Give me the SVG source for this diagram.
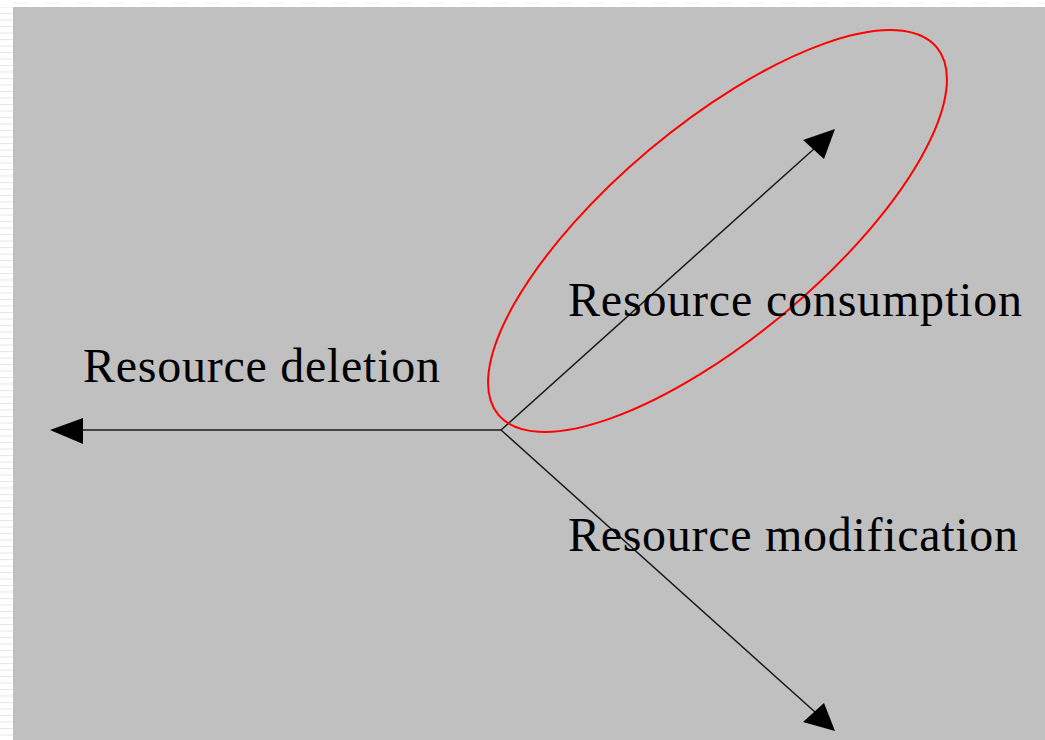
<svg xmlns="http://www.w3.org/2000/svg" width="1045" height="740" viewBox="0 0 1045 740">
  <defs>
    <pattern id="stripes" x="0" y="0" width="13" height="6.5" patternUnits="userSpaceOnUse">
      <rect x="0" y="0" width="13" height="1" fill="#e6e6e6"/>
    </pattern>
    <style>
      .lbl { font-family: "Liberation Serif", "Times New Roman", serif; font-size: 48px; fill: #000; }
      .conn { stroke: #1a1a1a; stroke-width: 1.5; fill: none; }
      .head { fill: #000; stroke: none; }
    </style>
  </defs>
  <rect x="0" y="0" width="1045" height="740" fill="#ffffff"/>
  <rect x="0" y="7" width="13" height="733" fill="url(#stripes)"/>
  <line x1="13" y1="3" x2="1045" y2="3" stroke="#eeeeee" stroke-width="1" stroke-dasharray="16,16"/>
  <rect x="13" y="7" width="1032" height="733" fill="#c0c0c0"/>

  <g id="connectors">
    <line class="conn" x1="501" y1="430" x2="80" y2="430"/>
    <polygon class="head" points="50,430 83,418 83,444"/>
    <line class="conn" x1="501" y1="430" x2="815" y2="148"/>
    <polygon class="head" points="835,129 803,140 824,159"/>
    <line class="conn" x1="501" y1="430" x2="815" y2="712"/>
    <polygon class="head" points="835,731 803,722 824,703"/>
  </g>

  <g id="highlight">
    <ellipse cx="717.5" cy="231" rx="286" ry="106" transform="rotate(-40 717.5 231)" fill="none" stroke="#ff0000" stroke-width="2"/>
  </g>

  <g id="node-consumption">
    <text class="lbl" x="568" y="316" textLength="454" lengthAdjust="spacing">Resource consumption</text>
  </g>
  <g id="node-deletion">
    <text class="lbl" x="83" y="382" textLength="357" lengthAdjust="spacing">Resource deletion</text>
  </g>
  <g id="node-modification">
    <text class="lbl" x="568" y="551" textLength="450" lengthAdjust="spacing">Resource modification</text>
  </g>
</svg>
